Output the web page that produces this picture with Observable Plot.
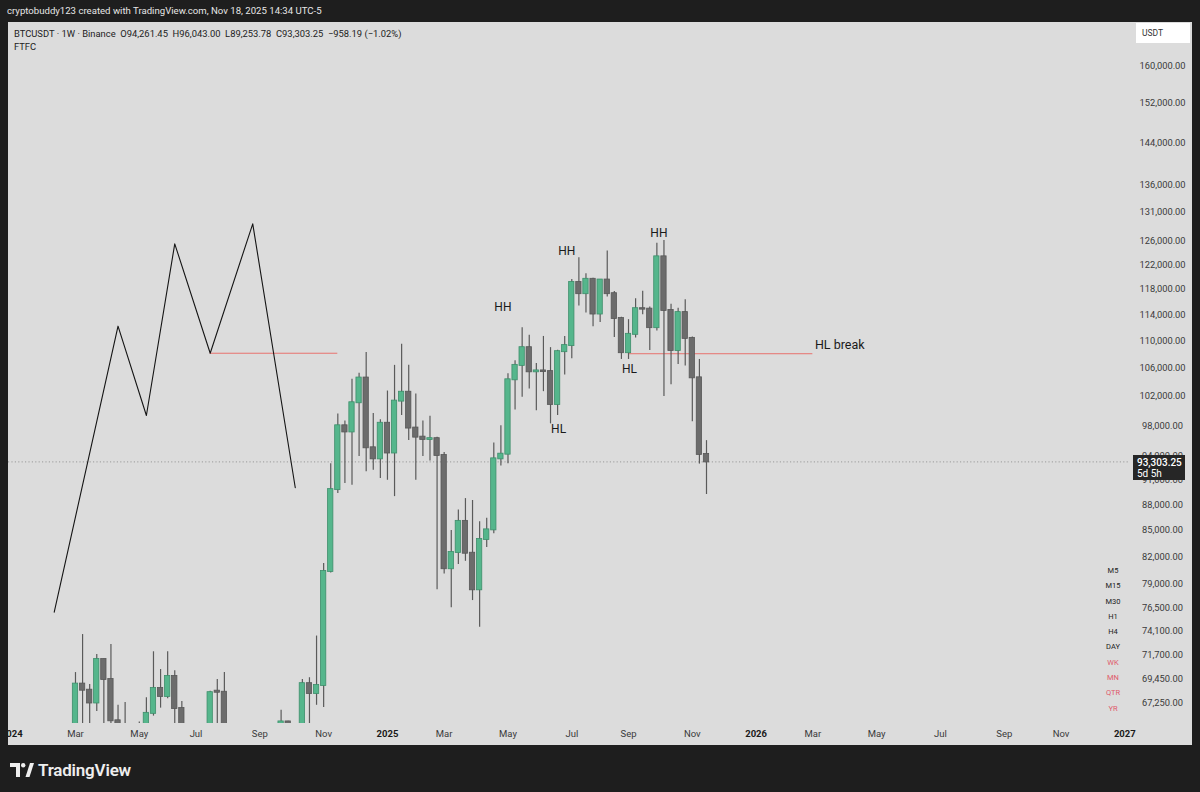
<!DOCTYPE html>
<html><head><meta charset="utf-8">
<script src="https://cdn.jsdelivr.net/npm/d3@7"></script>
<script src="https://cdn.jsdelivr.net/npm/@observablehq/plot@0.6"></script>
<style>
html,body{margin:0;padding:0;}
body{background:#1e1e1e;width:1200px;height:792px;overflow:hidden;position:relative;font-family:Roboto,"Noto Sans",sans-serif;}
#top{position:absolute;left:7px;top:5px;color:#e6e6e6;font-size:9.6px;white-space:nowrap;}
#panel{position:absolute;left:8px;top:22px;width:1184px;height:723px;background:#dcdcdc;overflow:hidden;}
#legend{position:absolute;left:6px;top:5px;color:#222;font-size:9.4px;line-height:13px;white-space:pre;}
#usdt{position:absolute;left:1128px;top:1px;width:54px;height:20px;background:#fff;color:#333;font-size:8.5px;line-height:20px;padding-left:6px;box-sizing:border-box;}
#pbox{position:absolute;left:1125px;width:52px;height:25px;background:#262626;color:#fff;font-size:10px;line-height:11px;padding:2px 0 0 4px;box-sizing:border-box;}
#ftfc{position:absolute;left:1090px;top:541px;width:30px;text-align:center;font-size:7.5px;}
#ftfc div{height:15.3px;line-height:15.3px;}
#logo{position:absolute;left:10px;top:760px;color:#eee;font-size:17px;font-weight:600;display:flex;align-items:center;gap:4px;letter-spacing:-0.2px;}
svg{display:block;}
</style></head>
<body>
<div id="top">cryptobuddy123 created with TradingView.com, Nov 18, 2025 14:34 UTC-5</div>
<div id="panel"></div>
<div id="logo"><svg width="24" height="14" viewBox="0 0 24 14"><path d="M0 0H10V14H6V4H0Z" fill="#eee"/><circle cx="13.2" cy="2.2" r="2.2" fill="#eee"/><path d="M15.5 14L20 0H24L19.5 14Z" fill="#eee"/></svg><span>TradingView</span></div>
<script>
// ---- data ----
const weekStarts = [
"2024-03-04","2024-03-11","2024-03-18","2024-03-25","2024-04-01","2024-04-08","2024-04-15","2024-04-22","2024-04-29","2024-05-06",
"2024-05-13","2024-05-20","2024-05-27","2024-06-03","2024-06-10","2024-06-17","2024-06-24","2024-07-01","2024-07-08","2024-07-15",
"2024-07-22","2024-07-29","2024-08-05","2024-08-12","2024-08-19","2024-08-26","2024-09-02","2024-09-09","2024-09-16","2024-09-23",
"2024-09-30","2024-10-07","2024-10-14","2024-10-21","2024-10-28","2024-11-04","2024-11-11","2024-11-18","2024-11-25","2024-12-02",
"2024-12-09","2024-12-16","2024-12-23","2024-12-30","2025-01-06","2025-01-13","2025-01-20","2025-01-27","2025-02-03","2025-02-10",
"2025-02-17","2025-02-24","2025-03-03","2025-03-10","2025-03-17","2025-03-24","2025-03-31","2025-04-07","2025-04-14","2025-04-21",
"2025-04-28","2025-05-05","2025-05-12","2025-05-19","2025-05-26","2025-06-02","2025-06-09","2025-06-16","2025-06-23","2025-06-30",
"2025-07-07","2025-07-14","2025-07-21","2025-07-28","2025-08-04","2025-08-11","2025-08-18","2025-08-25","2025-09-01","2025-09-08",
"2025-09-15","2025-09-22","2025-09-29","2025-10-06","2025-10-13","2025-10-20","2025-10-27","2025-11-03","2025-11-10","2025-11-17"];
const opens = [
63110,68960,68390,67210,71300,69390,65600,64940,63120,63880,
61480,66270,68550,67810,69680,66700,64250,62700,55850,60800,
68300,68200,58160,58710,59000,64200,57300,58000,59100,63300,
65500,62800,62850,69000,68080,68830,80380,89850,98000,97185,
101120,104580,95110,93690,98340,94440,101350,102580,97700,96500,
96200,96300,94120,80680,82480,86050,82400,78400,83950,85060,
93690,94290,104330,106400,108990,105470,105600,105500,100890,108400,
109300,119100,117300,119620,114100,119500,117300,113400,108250,110990,
114930,114860,112000,123330,114660,108570,114320,110380,104610,94261.45];
const highs = [
70050,73770,68930,71790,71350,72780,67000,67250,64730,65500,
67700,72060,70340,72060,70230,67340,64500,63860,61400,68300,
69390,70050,62700,61800,65050,64500,58500,61000,64130,66540,
65550,64500,69400,69560,73620,81250,93060,99600,98630,104400,
105270,108290,99640,98800,102750,106400,109500,106400,102350,98660,
99280,96500,94500,85000,87380,88760,88530,86010,86420,95720,
98000,105190,107080,111980,110850,106680,110670,109000,108600,110670,
119600,123190,120540,119800,119600,124300,117640,113600,113230,116490,
117690,115200,125630,126100,115620,115000,116330,110600,107260,96043];
const lows = [
59005,64530,60760,66430,64500,60660,59600,62400,56550,60190,
60750,66020,66740,67600,65000,62800,58400,53500,54300,60600,
63460,57100,49000,56100,57800,57200,52550,55500,57500,62660,
59800,58900,62000,65000,67000,66800,80216,89376,90600,90400,
94000,92050,92250,91220,91000,89000,99380,96060,90990,94000,
93430,78400,80100,76500,81140,81500,77260,74500,83040,84600,
92800,93060,100120,101900,103020,100020,102660,98260,99400,105000,
107350,115370,114270,112150,112800,116760,110530,107260,107260,110430,
114000,108570,111500,102000,103630,106540,106300,98540,93030,89253.78];
const closes = [
68960,68390,67210,71300,69390,65600,64940,63120,63880,61480,
66270,68550,67810,69680,66700,64250,62700,55850,60800,68160,
68200,58160,58710,59000,64200,57300,58000,59100,63300,65500,
62800,62850,69000,68080,68830,80380,89850,98000,97185,101120,
104580,95110,93690,98340,94440,101350,102580,97700,96500,96200,
96300,94120,80680,82480,86050,82400,78400,83950,85060,93690,
94290,104330,106400,108990,105470,105600,105500,100890,108400,109300,
119100,117300,119620,114100,119500,117300,113400,108250,110990,114930,
114860,112000,123330,114660,108570,114320,110380,104610,94261.45,93303.25];

// hand-drawn zigzag (date, price)
const zigDates  = ["2024-02-12","2024-04-15","2024-05-13","2024-06-10","2024-07-15","2024-08-26","2024-10-07"];
const zigPrices = [76050,112230,99380,125540,108170,129000,90080];
// red horizontal lines
const hlStart = ["2024-07-15","2025-09-01"];
const hlEnd   = ["2024-11-18","2026-03-02"];
const hlPrice = [108170,108100];
// annotations (centred)
const noteText  = ["HH","HH","HH","HL","HL"];
const noteDate  = ["2025-04-30","2025-07-02","2025-10-01","2025-06-24","2025-09-02"];
const notePrice = [115120,124290,127370,97510,105900];
// annotation (left-aligned) at the end of the right red line
const breakText = ["HL break"];
const breakDate = ["2026-03-04"];
const breakPrice = [109330];
// axis ticks
const priceTicks = [160000,152000,144000,136000,131000,126000,122000,118000,114000,110000,106000,102000,98000,94000,91000,88000,85000,82000,79000,76500,74100,71700,69450,67250];
const monthTickDates = ["2024-03-04","2024-05-06","2024-07-01","2024-09-02","2024-11-04","2025-03-03","2025-05-05","2025-07-07","2025-09-01","2025-11-03","2026-03-02","2026-05-04","2026-07-06","2026-09-07","2026-11-02"];
const monthTickLabels = ["Mar","May","Jul","Sep","Nov","Mar","May","Jul","Sep","Nov","Mar","May","Jul","Sep","Nov"];
const yearTickDates = ["2024-01-01","2025-01-06","2026-01-05","2027-01-04"];
const yearTickLabels = ["2024","2025","2026","2027"];
const lastPrice = 93303.25;
const countdown = "5d 5h";
const ftfcLabels = ["M5","M15","M30","H1","H4","DAY","WK","MN","QTR","YR"];
const ftfcColors = ["#222","#222","#222","#222","#222","#222","#e05a6a","#e05a6a","#e05a6a","#e05a6a"];

// ---- build ----
const P = d => new Date(d + "T00:00:00Z");
const DAY = 864e5;
const candles = weekStarts.map((d, i) => ({date: P(d), open: opens[i], high: highs[i], low: lows[i], close: closes[i], up: closes[i] >= opens[i]}));
const zig = zigDates.map((d, i) => ({date: P(d), price: zigPrices[i]}));
const hl = hlStart.map((d, i) => ({x1: P(d), x2: P(hlEnd[i]), y: hlPrice[i]}));
const notes = noteText.map((t, i) => ({text: t, date: P(noteDate[i]), price: notePrice[i]}));
const breaks = breakText.map((t, i) => ({text: t, date: P(breakDate[i]), price: breakPrice[i]}));

const W = 1184, H = 723, mR = 62, mB = 22;
const pxPerDay = 7.09 / 7;
const anchor = P("2025-11-17");
const plotW = W - mR;
const anchorPx = 698;
const xDomain = [new Date(+anchor - anchorPx / pxPerDay * DAY), new Date(+anchor + (plotW - anchorPx) / pxPerDay * DAY)];
const half = 2.62 * DAY;
const font = "Roboto, 'Noto Sans', sans-serif";

const chart = Plot.plot({
  width: W, height: H,
  marginLeft: 0, marginRight: mR, marginTop: 0, marginBottom: mB,
  style: {background: "transparent", fontFamily: font},
  x: {type: "utc", domain: xDomain},
  y: {type: "log", domain: [65360, 169650]},
  marks: [
    Plot.ruleY([lastPrice], {stroke: "#9a9a9a", strokeWidth: 1, strokeDasharray: "1.2,2.2"}),
    Plot.ruleY(hl, {y: "y", x1: "x1", x2: "x2", stroke: "#e8736f", strokeWidth: 1}),
    Plot.line(zig, {x: "date", y: "price", stroke: "#141414", strokeWidth: 1.1}),
    Plot.ruleX(candles, {x: "date", y1: "low", y2: "high", stroke: "#5a5a5a", strokeWidth: 1.2, clip: true}),
    Plot.rect(candles, {
      x1: d => new Date(+d.date - half), x2: d => new Date(+d.date + half),
      y1: "open", y2: "close",
      fill: d => d.up ? "#55b68c" : "#6c6c6c",
      stroke: d => d.up ? "#3e8e6b" : "#575757",
      strokeWidth: 0.8, insetTop: -0.5, insetBottom: -0.5, clip: true
    }),
    Plot.text(notes, {x: "date", y: "price", text: "text", fontSize: 12, fill: "#1a1a1a", textAnchor: "middle"}),
    Plot.text(breaks, {x: "date", y: "price", text: "text", fontSize: 12.5, fill: "#1a1a1a", textAnchor: "start"}),
    Plot.axisY(priceTicks, {anchor: "right", tickSize: 0, tickPadding: 0, dx: 32, textAnchor: "middle",
      tickFormat: d3.format(",.2f"), fontSize: 9.3, fill: "#3a3a3a"}),
    Plot.axisX(monthTickDates.map(P), {anchor: "bottom", tickSize: 0, tickPadding: 7, fontSize: 9.5, fill: "#3a3a3a",
      tickFormat: (d, i) => monthTickLabels[i]}),
    Plot.axisX(yearTickDates.map(P), {anchor: "bottom", tickSize: 0, tickPadding: 7, fontSize: 9.5, fill: "#1a1a1a", fontWeight: "bold",
      tickFormat: (d, i) => yearTickLabels[i]})
  ]
});
const panel = document.getElementById("panel");
panel.appendChild(chart);

// legend
const lg = document.createElement("div");
lg.id = "legend";
lg.textContent = "BTCUSDT · 1W · Binance  O94,261.45  H96,043.00  L89,253.78  C93,303.25  −958.19 (−1.02%)\nFTFC";
panel.appendChild(lg);

// currency box
const us = document.createElement("div");
us.id = "usdt"; us.textContent = "USDT";
panel.appendChild(us);

// last price label positioned with the y scale
const yPx = chart.scale("y").apply(lastPrice);
const pb = document.createElement("div");
pb.id = "pbox";
pb.style.top = (yPx - 6) + "px";
pb.innerHTML = "<div style='font-weight:500'>" + d3.format(",.2f")(lastPrice) + "</div><div>" + countdown + "</div>";
panel.appendChild(pb);

// FTFC table
const ft = document.createElement("div");
ft.id = "ftfc";
ftfcLabels.forEach((t, i) => { const e = document.createElement("div"); e.textContent = t; e.style.color = ftfcColors[i]; ft.appendChild(e); });
panel.appendChild(ft);
</script>
</body></html>
